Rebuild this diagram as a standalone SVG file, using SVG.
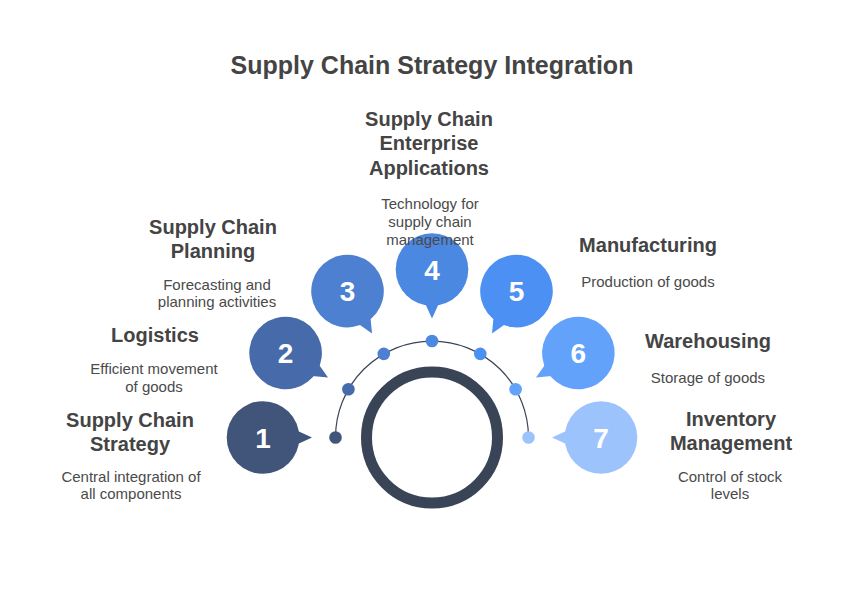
<svg xmlns="http://www.w3.org/2000/svg" width="864" height="606" viewBox="0 0 864 606">
<style>
.t{font-family:"Liberation Sans",Arial,sans-serif;font-weight:bold;font-size:25px;fill:#444;text-anchor:middle}
.h{font-family:"Liberation Sans",Arial,sans-serif;font-weight:bold;font-size:20px;fill:#444;text-anchor:middle}
.d{font-family:"Liberation Sans",Arial,sans-serif;font-size:15px;fill:#4a4a4a;text-anchor:middle}
.n{font-family:"Liberation Sans",Arial,sans-serif;font-weight:bold;font-size:28px;fill:#fff;text-anchor:middle}
</style>
<defs>
<g id="bub"><circle cx="0" cy="0" r="36.3"/><path d="M 25,-11 L 49,0 L 25,11 Z"/></g>
</defs>
<rect width="864" height="606" fill="#fff"/>
<text class="t" x="432" y="74">Supply Chain Strategy Integration</text>
<g id="connectors">
<path d="M 335.5,437.5 A 96.5 96.5 0 0 1 528.5,437.5" fill="none" stroke="#3a4456" stroke-width="1.2"/>
<circle cx="432" cy="437.5" r="65.5" fill="none" stroke="#394457" stroke-width="11"/>
<circle cx="335.5" cy="437.5" r="6.3" fill="#41547a"/>
<circle cx="348.4" cy="389.3" r="6.3" fill="#466aaa"/>
<circle cx="383.8" cy="353.9" r="6.3" fill="#4d80d0"/>
<circle cx="432" cy="341" r="6.3" fill="#4a88e2"/>
<circle cx="480.3" cy="353.9" r="6.3" fill="#4c90f3"/>
<circle cx="515.6" cy="389.3" r="6.3" fill="#62a2fb"/>
<circle cx="528.5" cy="437.5" r="6.3" fill="#9dc3fd"/>
</g>
<g id="node1">
<use href="#bub" transform="translate(263,437.5) rotate(0)" fill="#41547a"/>
<text class="n" x="263" y="447.5">1</text>
<text class="h" x="130" y="427">Supply Chain</text>
<text class="h" x="130" y="451">Strategy</text>
<text class="d" x="131" y="482">Central integration of</text>
<text class="d" x="131" y="499">all components</text>
</g>
<g id="node2">
<use href="#bub" transform="translate(285.6,353) rotate(30)" fill="#466aaa"/>
<text class="n" x="285.6" y="363">2</text>
<text class="h" x="155" y="342">Logistics</text>
<text class="d" x="154" y="374">Efficient movement</text>
<text class="d" x="154" y="392">of goods</text>
</g>
<g id="node3">
<use href="#bub" transform="translate(347.5,291.1) rotate(60)" fill="#4d80d0"/>
<text class="n" x="347.5" y="301.1">3</text>
<text class="h" x="213" y="234">Supply Chain</text>
<text class="h" x="213" y="258">Planning</text>
<text class="d" x="217" y="290">Forecasting and</text>
<text class="d" x="217" y="307">planning activities</text>
</g>
<g id="node4">
<use href="#bub" transform="translate(432,269.5) rotate(90)" fill="#4a88e2"/>
<text class="n" x="432" y="279.5">4</text>
<text class="h" x="429" y="126">Supply Chain</text>
<text class="h" x="429" y="150">Enterprise</text>
<text class="h" x="429" y="175">Applications</text>
<text class="d" x="430" y="209">Technology for</text>
<text class="d" x="430" y="227">supply chain</text>
<text class="d" x="430" y="245">management</text>
</g>
<g id="node5">
<use href="#bub" transform="translate(516.5,291.1) rotate(120)" fill="#4c90f3"/>
<text class="n" x="516.5" y="301.1">5</text>
<text class="h" x="648" y="252">Manufacturing</text>
<text class="d" x="648" y="287">Production of goods</text>
</g>
<g id="node6">
<use href="#bub" transform="translate(578.4,353) rotate(150)" fill="#62a2fb"/>
<text class="n" x="578.4" y="363">6</text>
<text class="h" x="708" y="348">Warehousing</text>
<text class="d" x="708" y="383">Storage of goods</text>
</g>
<g id="node7">
<use href="#bub" transform="translate(601,437.5) rotate(180)" fill="#9dc3fd"/>
<text class="n" x="601" y="447.5">7</text>
<text class="h" x="731" y="426">Inventory</text>
<text class="h" x="731" y="450">Management</text>
<text class="d" x="730" y="482">Control of stock</text>
<text class="d" x="730" y="499">levels</text>
</g>
</svg>
